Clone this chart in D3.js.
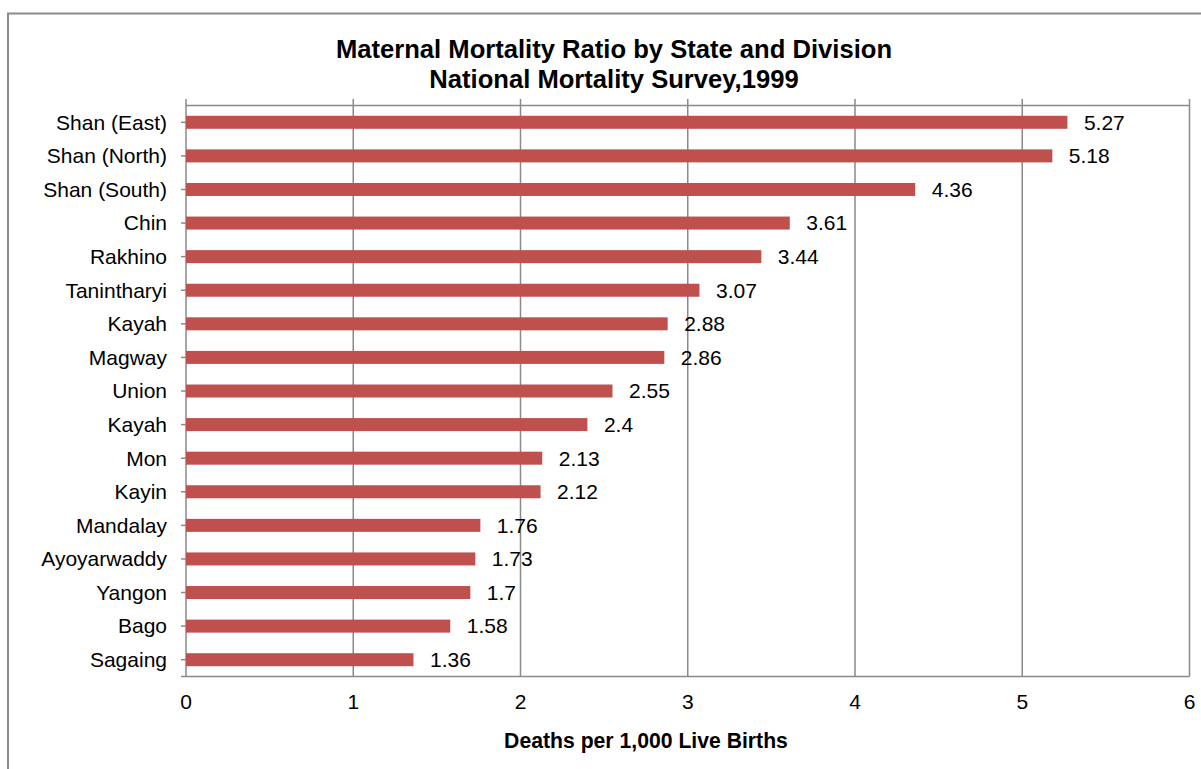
<!DOCTYPE html>
<html>
<head>
<meta charset="utf-8">
<script src="https://cdn.jsdelivr.net/npm/d3@7"></script>
<style>
html,body{margin:0;padding:0;background:#fff;}
svg{display:block;font-family:"Liberation Sans",Arial,sans-serif;}
</style>
</head>
<body>
<svg id="chart" width="1201" height="769"></svg>
<script>
const categories = ["Shan (East)","Shan (North)","Shan (South)","Chin","Rakhino","Tanintharyi","Kayah","Magway","Union","Kayah","Mon","Kayin","Mandalay","Ayoyarwaddy","Yangon","Bago","Sagaing"];
const values = [5.27,5.18,4.36,3.61,3.44,3.07,2.88,2.86,2.55,2.4,2.13,2.12,1.76,1.73,1.7,1.58,1.36];
const xTicks = [0,1,2,3,4,5,6];
const titleLines = ["Maternal Mortality Ratio by State and Division","National Mortality Survey,1999"];
const xTitle = "Deaths per 1,000 Live Births";

(function(){
const svg = d3.select("#chart");
const pL = 186, pR = 1189.5, pT = 105.5, pB = 676.5;
const gridCol = "#8a8a8a";

// outer chart border
svg.append("rect").attr("x",8).attr("y",13.5).attr("width",1230).attr("height",800)
  .attr("fill","none").attr("stroke","#8c8c8c").attr("stroke-width",2);

const x = d3.scaleLinear().domain([0,6]).range([pL,pR]);
const idx = categories.map((d,i)=>i);
const y = d3.scaleBand().domain(idx).range([pT,pB]).paddingInner(0.613).paddingOuter(0.3065);

// gridlines + top tick marks
svg.append("g").selectAll("line").data(xTicks).join("line")
  .attr("x1",d=>x(d)).attr("x2",d=>x(d)).attr("y1",pT-6.5).attr("y2",pB)
  .attr("stroke",gridCol).attr("stroke-width",1.5);
svg.append("line").attr("x1",pL).attr("x2",pR).attr("y1",pT).attr("y2",pT).attr("stroke",gridCol).attr("stroke-width",1.5);
svg.append("line").attr("x1",pL).attr("x2",pR).attr("y1",pB).attr("y2",pB).attr("stroke",gridCol).attr("stroke-width",1.5);

// bars
svg.append("g").selectAll("rect").data(values).join("rect")
  .attr("x",x(0)).attr("y",(d,i)=>y(i)).attr("width",d=>x(d)-x(0)).attr("height",y.bandwidth())
  .attr("fill","#C0504D");

// y axis ticks
svg.append("g").selectAll("line").data(idx).join("line")
  .attr("x1",pL-5).attr("x2",pL).attr("y1",i=>y(i)+y.bandwidth()/2).attr("y2",i=>y(i)+y.bandwidth()/2)
  .attr("stroke",gridCol).attr("stroke-width",1.5);
svg.append("line").attr("x1",pL-5).attr("x2",pL).attr("y1",pB).attr("y2",pB).attr("stroke",gridCol).attr("stroke-width",1.5);

// value labels
svg.append("g").selectAll("text").data(values).join("text")
  .attr("x",d=>x(d)+16.5).attr("y",(d,i)=>y(i)+y.bandwidth()/2).attr("dy","0.35em")
  .attr("font-size","21px").attr("fill","#000").text(d=>String(d));

// category labels
svg.append("g").selectAll("text").data(categories).join("text")
  .attr("x",167).attr("y",(d,i)=>y(i)+y.bandwidth()/2).attr("dy","0.35em")
  .attr("text-anchor","end").attr("font-size","21px").attr("fill","#000").text(d=>d);

// x tick labels
svg.append("g").selectAll("text").data(xTicks).join("text")
  .attr("x",d=>x(d)).attr("y",709).attr("text-anchor","middle")
  .attr("font-size","21px").attr("fill","#000").text(d=>d);

// title
svg.append("g").selectAll("text").data(titleLines).join("text")
  .attr("x",614).attr("y",(d,i)=>58+i*30).attr("text-anchor","middle")
  .attr("font-size","25.6px").attr("font-weight","bold").attr("fill","#000").text(d=>d);

// axis title
svg.append("text").attr("x",646).attr("y",748).attr("text-anchor","middle")
  .attr("font-size","21.2px").attr("font-weight","bold").attr("fill","#000").text(xTitle);
})();
</script>
</body>
</html>
